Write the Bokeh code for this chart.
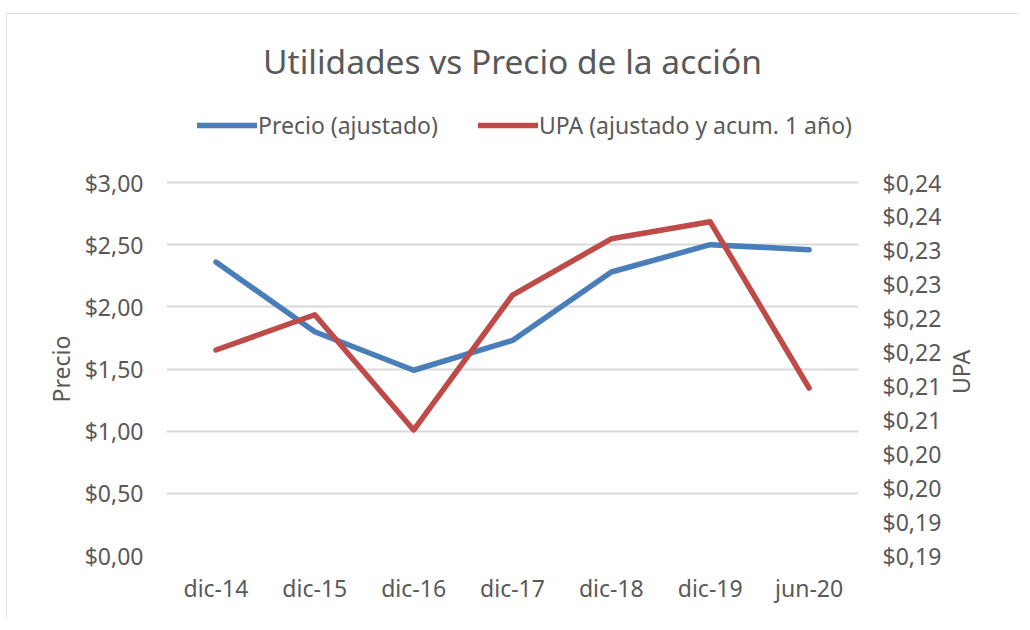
import math
from bokeh.plotting import figure
from bokeh.models import (Range1d, LinearAxis, Legend, LegendItem, FixedTicker,
                          CustomJSTickFormatter, ColumnDataSource, Title)
from bokeh.embed import file_html
from bokeh.resources import INLINE

categories = ["dic-14", "dic-15", "dic-16", "dic-17", "dic-18", "dic-19", "jun-20"]
precio = [2.36, 1.80, 1.49, 1.73, 2.28, 2.50, 2.46]
upa = [0.2153, 0.2205, 0.2035, 0.2234, 0.2317, 0.2342, 0.2097]
left_ticks = [0.0, 0.5, 1.0, 1.5, 2.0, 2.5, 3.0]
right_ticks = [0.185, 0.19, 0.195, 0.20, 0.205, 0.21, 0.215, 0.22, 0.225, 0.23, 0.235, 0.24]

FONT = "Noto Sans"
GREY = "#595959"
BLUE = "#4A7EBB"
RED = "#BE4B48"

# layout (pixels): the frame is stretched upward to host the legend
FRAME_TOP_PAD = 87      # extra px above the $3,00 gridline reserved for the legend
AXIS_PX = 373           # px between $0,00 and $3,00
stretch = (AXIS_PX + FRAME_TOP_PAD) / AXIS_PX

left_lo, left_hi = 0.0, 3.0
right_lo, right_hi = 0.185, 0.24

src = ColumnDataSource(dict(cat=categories, precio=precio, upa=upa))

p = figure(x_range=categories,
           y_range=Range1d(left_lo, left_lo + (left_hi - left_lo) * stretch),
           width=1012, height=605,
           output_backend="svg", toolbar_location=None,
           min_border_left=160, min_border_right=160,
           min_border_top=169 - FRAME_TOP_PAD, min_border_bottom=63)
p.margin = (13, 0, 0, 6)
p.styles = {"outline": "2px solid #d9d9d9", "outline-offset": "-2px"}
p.outline_line_color = None
p.background_fill_color = "white"
p.border_fill_color = "white"

p.extra_y_ranges = {"upa": Range1d(right_lo, right_lo + (right_hi - right_lo) * stretch)}

r1 = p.line("cat", "precio", source=src, line_color=BLUE, line_width=5.5,
            line_join="round", line_cap="round")
r2 = p.line("cat", "upa", source=src, y_range_name="upa", line_color=RED, line_width=5.5,
            line_join="round", line_cap="round")

# Title
p.title.text = "Utilidades vs Precio de la acción"
p.title.align = "center"
p.title.text_font = FONT
p.title.text_font_size = "33.5px"
p.title.text_font_style = "normal"
p.title.text_color = GREY
p.title.standoff = 23

# Legend inside the stretched frame, above the gridlines
legend = Legend(items=[LegendItem(label="Precio (ajustado)", renderers=[r1]),
                       LegendItem(label="UPA (ajustado y acum. 1 año)", renderers=[r2])],
                orientation="horizontal", location=(31, 414))
legend.label_text_font = FONT
legend.label_text_font_size = "23px"
legend.label_text_color = GREY
legend.glyph_width = 60
legend.label_standoff = 1
legend.spacing = 40
legend.border_line_color = None
legend.background_fill_alpha = 0
legend.padding = 0
legend.margin = 0
p.add_layout(legend, "center")

# Left axis
ya = p.yaxis[0]
ya.ticker = FixedTicker(ticks=left_ticks)
ya.formatter = CustomJSTickFormatter(code='return "$" + tick.toFixed(2).replace(".", ",");')

# Right axis
ra = LinearAxis(y_range_name="upa")
ra.ticker = FixedTicker(ticks=right_ticks)
ra.formatter = CustomJSTickFormatter(
    code='return "$" + (Math.round(tick*100 + 1e-6)/100).toFixed(2).replace(".", ",");')
p.add_layout(ra, "right")

for ax in [ya, ra, p.xaxis[0]]:
    ax.axis_line_color = None
    ax.major_tick_line_color = None
    ax.minor_tick_line_color = None
    ax.major_tick_out = 0
    ax.major_tick_in = 0
    ax.major_label_text_font = FONT
    ax.major_label_text_font_size = "23px"
    ax.major_label_text_color = GREY

ya.major_label_standoff = 23
ra.major_label_standoff = 24
p.xaxis[0].major_label_standoff = 16

# left axis title centred on the gridline span (offset from frame bottom)
t_left = Title(text="Precio", align="left", offset=153, standoff=10,
               text_font=FONT, text_font_size="23px", text_font_style="normal",
               text_color=GREY)
p.add_layout(t_left, "left")

# right axis title, reading bottom-to-top
props = LinearAxis.properties()
if "axis_label_orientation" in props:
    ra.axis_label_orientation = math.pi / 2
    ra.axis_label_standoff = 17
    ra.axis_label_text_font = FONT
    ra.axis_label_text_font_size = "23px"
    ra.axis_label_text_font_style = "normal"
    ra.axis_label_text_color = GREY
    if "axis_label_align" in props:
        # anchor at the bottom of the frame; non-breaking lead lifts it to the middle
        ra.axis_label_align = "start"
        ra.axis_label = "\u00a0" * 27 + "UPA"
    else:
        ra.axis_label = "UPA"
else:
    t_right = Title(text="UPA", align="right", offset=168, standoff=10,
                    text_font=FONT, text_font_size="23px", text_font_style="normal",
                    text_color=GREY)
    p.add_layout(t_right, "right")

p.xgrid.grid_line_color = None
p.ygrid.grid_line_color = "#d9d9d9"
p.ygrid.grid_line_width = 2

open("out.html", "w").write(file_html(p, INLINE))
